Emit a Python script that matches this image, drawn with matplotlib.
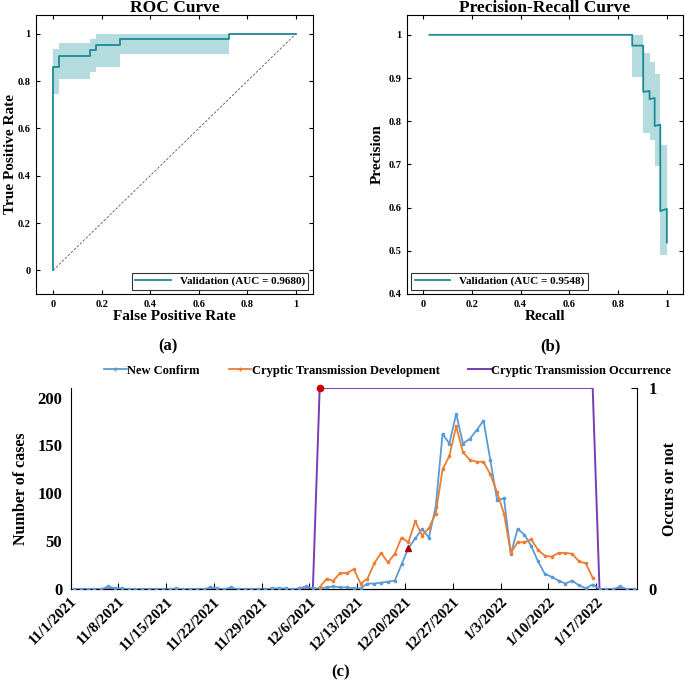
import numpy as np
import pandas as pd
import matplotlib
matplotlib.use("Agg")
import matplotlib.pyplot as plt
import matplotlib.dates as mdates
from matplotlib.lines import Line2D

plt.rcParams['font.family'] = ['Liberation Serif', 'DejaVu Serif']
plt.rcParams['font.weight'] = 'bold'
plt.rcParams['axes.labelweight'] = 'bold'
plt.rcParams['axes.titleweight'] = 'bold'

# ---- ROC data (validation) ----
roc_fpr = [0, 0, 0.025, 0.025, 0.151, 0.151, 0.177, 0.177, 0.274, 0.274, 0.726, 0.726, 1.0]
roc_tpr = [0, 0.86, 0.86, 0.907, 0.907, 0.930, 0.930, 0.953, 0.953, 0.977, 0.977, 1.0, 1.0]
roc_band_x = [0, 0.025, 0.151, 0.177, 0.274, 0.726]
roc_band_lo = [0.745, 0.81, 0.838, 0.858, 0.915, 0.915]
roc_band_hi = [0.934, 0.96, 0.979, 1.0, 1.0, 1.0]

# ---- PR data (validation) ----
pr_rec = [0.027, 0.858, 0.858, 0.903, 0.903, 0.929, 0.929, 0.950, 0.950, 0.973, 0.973, 1.0, 1.0]
pr_prec = [1.0, 1.0, 0.975, 0.975, 0.868, 0.870, 0.851, 0.854, 0.789, 0.792, 0.592, 0.597, 0.519]
pr_band_x = [0.858, 0.903, 0.929, 0.950, 0.973, 1.0]
pr_band_lo = [0.902, 0.772, 0.756, 0.696, 0.49, 0.486]
pr_band_hi = [1.0, 0.957, 0.937, 0.909, 0.746, 0.746]

# ---- daily series 11/1/2021 - 1/22/2022 ----
new_confirm = [0, 0, 0, 0, 0, 3, 1, 1, 0, 0, 0, 0, 0, 0, 0, 1, 0, 0, 0, 0,
               2, 1, 0, 2, 0, 0, 0, 0, 0, 1, 1, 1, 0, 1, 3, 1,
               1, 2, 3, 2, 2, 1, 1, 6, 6, 7, 8, 9, 26, 43, 53, 63, 54, 86,
               162, 152, 183, 152, 157, 166, 176, 135, 93, 95, 37, 63, 57, 45,
               29, 16, 13, 9, 6, 9, 4, 1, 5, 0, 0, 0, 3, 0, 0]
cryptic_dev = [np.nan] * 36 + [2, 11, 9, 17, 17, 21, 6, 11, 27, 38, 28, 37, 54, 49,
                               71, 56, 64, 79, 125, 139, 170, 143, 135, 133, 133, 120,
                               101, 79, 38, 49, 49, 52, 41, 35, 34, 38, 38, 37, 29, 27,
                               12] + [np.nan] * 6
occurrence = [0] * 36 + [1] * 41 + [0] * 6

dates = pd.date_range('2021-11-01', periods=len(new_confirm))
teal = '#1b8a94'
band = '#b4dcdf'

fig = plt.figure(figsize=(6.85, 6.89), dpi=100)

# ---------------- (a) ROC ----------------
ax1 = fig.add_axes([0.0526, 0.5733, 0.404, 0.405])
ax1.fill_between(roc_band_x, roc_band_lo, roc_band_hi, step='post', color=band, lw=0)
ax1.plot([0, 1], [0, 1], '--', color='#555555', lw=0.6, dashes=(3, 2))
ax1.plot(roc_fpr, roc_tpr, color=teal, lw=1.3, label='Validation (AUC = 0.9680)')
ax1.set_xlim(-0.07, 1.07)
ax1.set_ylim(-0.1, 1.08)
ax1.set_xticks([0, 0.2, 0.4, 0.6, 0.8, 1])
ax1.set_xticklabels(['0', '0.2', '0.4', '0.6', '0.8', '1'])
ax1.set_yticks([0, 0.2, 0.4, 0.6, 0.8, 1])
ax1.set_yticklabels(['0', '0.2', '0.4', '0.6', '0.8', '1'])
ax1.tick_params(direction='in', top=True, right=True, labelsize=7.5, length=3, pad=4)
ax1.set_title('ROC Curve', fontsize=12.5, pad=2)
ax1.set_xlabel('False Positive Rate', fontsize=11, labelpad=1)
ax1.set_ylabel('True Positive Rate', fontsize=11, labelpad=0)
leg = ax1.legend(loc='lower right', fontsize=8, fancybox=False, edgecolor='black',
                 handlelength=3.2, borderpad=0.3, borderaxespad=0.4)
leg.get_frame().set_linewidth(0.8)

# ---------------- (b) PR ----------------
ax2 = fig.add_axes([0.594, 0.5733, 0.403, 0.405])
ax2.fill_between(pr_band_x, pr_band_lo, pr_band_hi, step='post', color=band, lw=0)
ax2.plot(pr_rec, pr_prec, color=teal, lw=1.3, label='Validation (AUC = 0.9548)')
ax2.set_xlim(-0.066, 1.066)
ax2.set_ylim(0.4, 1.046)
ax2.set_xticks([0, 0.2, 0.4, 0.6, 0.8, 1])
ax2.set_xticklabels(['0', '0.2', '0.4', '0.6', '0.8', '1'])
ax2.set_yticks([0.4, 0.5, 0.6, 0.7, 0.8, 0.9, 1])
ax2.set_yticklabels(['0.4', '0.5', '0.6', '0.7', '0.8', '0.9', '1'])
ax2.tick_params(direction='in', top=True, right=True, labelsize=7.5, length=3, pad=4)
ax2.set_title('Precision-Recall Curve', fontsize=12.5, pad=2)
ax2.set_xlabel('Recall', fontsize=11, labelpad=1)
ax2.set_ylabel('Precision', fontsize=11, labelpad=3)
leg = ax2.legend(loc='lower left', fontsize=8, fancybox=False, edgecolor='black',
                 handlelength=3.2, borderpad=0.3, borderaxespad=0.4)
leg.get_frame().set_linewidth(0.8)

fig.text(0.245, 1 - 346 / 689, '(a)', ha='center', va='center', fontsize=12)
fig.text(0.803, 1 - 346 / 689, '(b)', ha='center', va='center', fontsize=12)

# ---------------- (c) time series ----------------
ax3 = fig.add_axes([0.103, 0.1447, 0.827, 0.2922])
xd = mdates.date2num(dates) + 0.5
blue, orange, purple = '#5b9bd5', '#ed7d31', '#7a3bb8'
ax3.plot(xd, new_confirm, color=blue, lw=1.3, marker='o', ms=1.6, zorder=3)
ax3.plot(xd, cryptic_dev, color=orange, lw=1.3, marker='o', ms=1.6, zorder=4)
ax3.plot(xd[49], new_confirm[49], marker='^', color='#b00000', ms=5, zorder=6)
ax3.set_xlim(mdates.date2num(dates[0]), mdates.date2num(dates[0]) + len(dates))
ax3.set_ylim(0, 210)
ax3.set_yticks([0, 50, 100, 150, 200])
ax3.tick_params(axis='y', length=0, labelsize=12, pad=6)
wk = mdates.date2num(dates[::7])
ax3.set_xticks(wk)
ax3.set_xticklabels([f'{d.month}/{d.day}/{d.year}' for d in dates[::7]],
                    rotation=45, ha='right', va='top', rotation_mode='anchor', fontsize=11)
ax3.tick_params(axis='x', direction='in', length=4, pad=4)
ax3.spines['top'].set_visible(False)
ax3.spines['right'].set_visible(False)
ax3.set_ylabel('Number of cases', fontsize=11.5, labelpad=6)

ax4 = ax3.twinx()
ax4.plot(xd, occurrence, color=purple, lw=1.4, zorder=2)
ax4.plot(xd[36], occurrence[36], 'o', color='#cc0000', ms=4.5, zorder=7, clip_on=False)
ax4.set_ylim(0, 1)
ax4.set_yticks([0, 1])
ax4.set_yticklabels(['0', '1'])
ax4.tick_params(axis='y', direction='in', length=4, labelsize=12, pad=8)
ax4.spines['top'].set_visible(False)
ax4.spines['left'].set_visible(False)
ax4.set_ylabel('Occurs or not', fontsize=11.5, labelpad=4)
ax3.set_zorder(ax4.get_zorder() + 1)
ax3.patch.set_visible(False)

handles = [Line2D([], [], color=blue, lw=1.3, marker='+', ms=3),
           Line2D([], [], color=orange, lw=1.3, marker='+', ms=3),
           Line2D([], [], color=purple, lw=1.4)]
ax3.legend(handles, ['New Confirm', 'Cryptic Transmission Development',
                     'Cryptic Transmission Occurrence'],
           loc='lower center', bbox_to_anchor=(0.56, 1.0), ncol=3, frameon=False,
           fontsize=9, handlelength=1.8, handletextpad=0.05, columnspacing=2.3)

fig.text(0.497, 1 - 672 / 689, '(c)', ha='center', va='center', fontsize=12)

fig.savefig('out.png', dpi=100)
